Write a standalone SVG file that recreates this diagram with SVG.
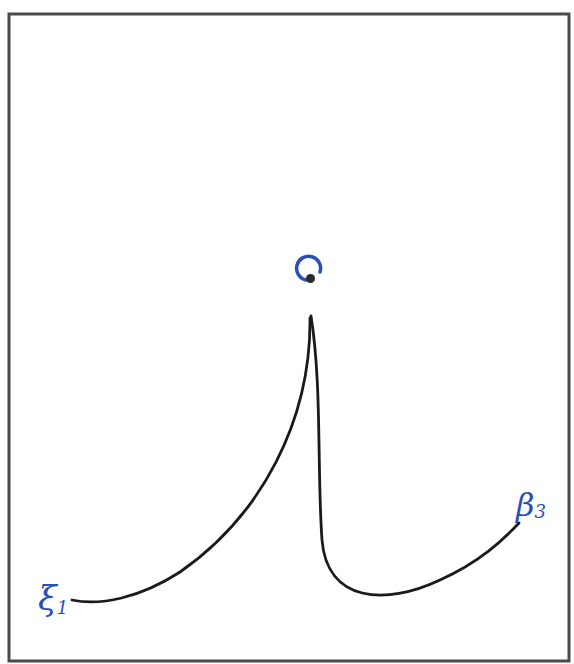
<svg xmlns="http://www.w3.org/2000/svg" width="574" height="664" viewBox="0 0 574 664">
<style>
.frame{fill:#ffffff;stroke:#4a4a4a;stroke-width:3}
.edge{fill:none;stroke:#1a1a1a;stroke-width:2.8;stroke-linecap:round}
.lbl{font-family:"DejaVu Serif","Liberation Serif",serif;fill:#2a4fb8;font-style:italic}
</style>
<rect width="574" height="664" fill="#ffffff"/>
<rect class="frame" x="9" y="14" width="560" height="647"/>
<g id="connectors">
<path class="edge" d="M 310 318 C 311 420, 262 515, 180 572 C 140 598, 100 606, 72 600"/>
<path class="edge" d="M 311 316 C 322 385, 317 470, 322 540 C 327 602, 385 606, 440 580 C 480 562, 503 540, 519 523"/>
</g>
<g id="root">
<path d="M 306 280 A 12 12 0 1 1 320 272" fill="none" stroke="#2a4fb8" stroke-width="3.5" stroke-linecap="round"/>
<circle cx="310.5" cy="278.5" r="4.5" fill="#2a2a2a"/>
</g>
<g id="leaf-left">
<text class="lbl" x="38" y="610" font-size="34">ξ<tspan font-size="18" dy="4">1</tspan></text>
</g>
<g id="leaf-right">
<text class="lbl" x="516" y="516" font-size="32">β<tspan font-size="18" dy="2">3</tspan></text>
</g>
</svg>
